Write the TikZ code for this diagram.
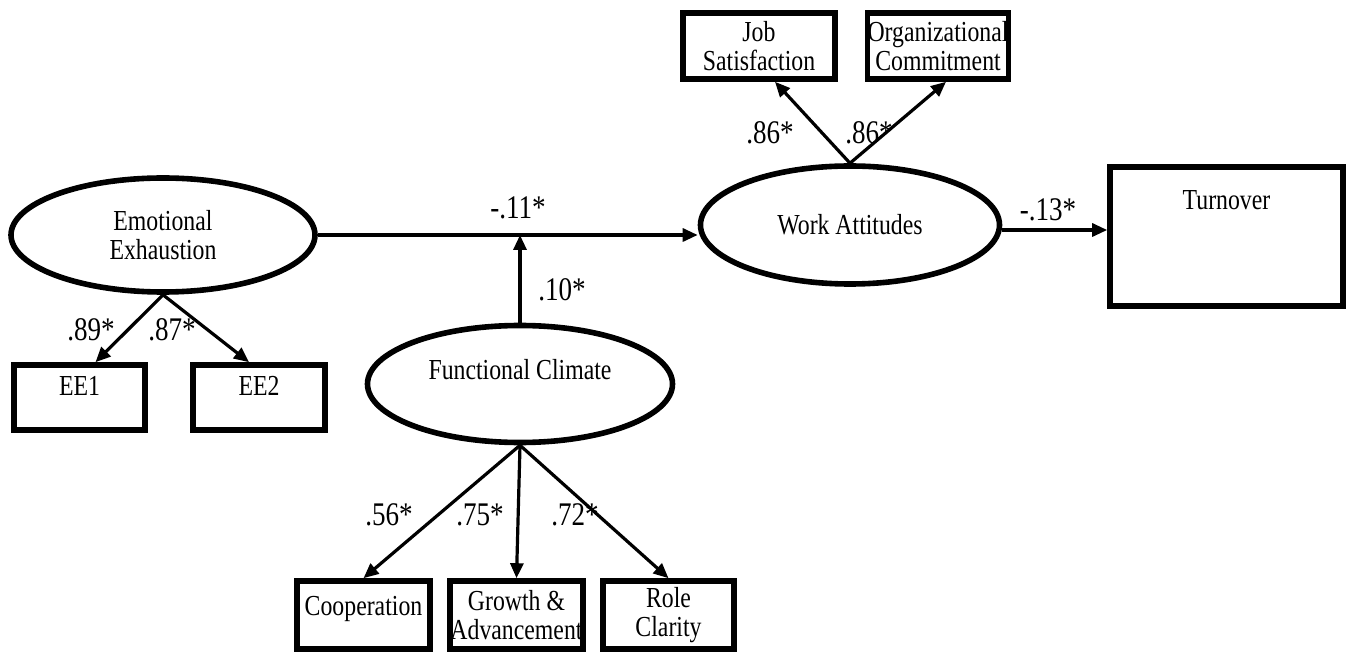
\documentclass[tikz,border=0pt]{standalone}
\usepackage{fontspec}
\setmainfont{Liberation Serif}[FakeStretch=0.82]
\usetikzlibrary{arrows.meta,shapes.geometric}

\begin{document}
\begin{tikzpicture}[x=0.5pt,y=-0.5pt,
      lat/.style={draw,ellipse,line width=2.8pt,inner sep=0pt,align=center,
                  font=\fontsize{14.5}{14.5}\selectfont},
      obs/.style={draw,rectangle,line width=2.8pt,inner sep=0pt,align=center,
                  font=\fontsize{14.5}{14.5}\selectfont},
      path/.style={line width=1.6pt,-{Triangle[length=7.5pt,width=6.5pt]}},
      coef/.style={inner sep=0pt,font=\fontsize{16.5}{16.5}\selectfont}]
    \useasboundingbox (0,0) rectangle (1356,652);
    % latent variables
    \node[lat,minimum width=152pt,minimum height=57pt]   (ee) at (163,235)  {Emotional\\Exhaustion};
    \node[lat,minimum width=152.5pt,minimum height=58.5pt,text height=8pt,text depth=12pt] (fc) at (520,384) {Functional Climate};
    \node[lat,minimum width=149.5pt,minimum height=59pt] (wa) at (850,225)  {Work Attitudes};
    % indicators
    \node[obs,minimum width=65.5pt,text height=15.5pt,text depth=17pt] (ee1) at (79.5,397.5) {EE1};
    \node[obs,minimum width=66pt,text height=15.5pt,text depth=17pt]   (ee2) at (259,397.5)  {EE2};
    \node[obs,minimum width=76pt,minimum height=33pt] (js) at (759,46) {Job\\Satisfaction};
    \node[obs,minimum width=69pt,minimum height=33pt] (oc) at (938,46) {Organizational\\Commitment};
    \node[obs,minimum width=116.5pt,text height=21.5pt,text depth=48pt] (to) at (1226.5,236.5) {Turnover};
    \node[obs,minimum width=66.5pt,text height=17pt,text depth=17pt] (coop) at (363.5,615) {Cooperation};
    \node[obs,minimum width=66.5pt,minimum height=34pt] (grow) at (516.5,615) {Growth \&\\Advancement};
    \node[obs,minimum width=65.5pt,minimum height=34pt] (role) at (668.5,615) {Role\\Clarity};
    % paths
    \draw[path] (ee.south) -- ([xshift=8pt]ee1.north);
    \draw[path] (ee.south) -- ([xshift=-5pt]ee2.north);
    \draw[path] (ee.east) -- (ee.east -| wa.west);
    \draw[path] (fc.north) -- (fc.north |- ee.east);
    \draw[path] (wa.north) -- ([xshift=8pt]js.south);
    \draw[path] (wa.north) -- ([xshift=4pt]oc.south);
    \draw[path] ([yshift=-2.5pt]wa.east) -- ([yshift=-2.5pt]wa.east -| to.west);
    \draw[path] (fc.south) -- (coop.north);
    \draw[path] (fc.south) -- (grow.north);
    \draw[path] (fc.south) -- (role.north);
    % coefficients
    \node[coef] (c1)  at (91,330)   {.89*};
    \node[coef] (c2)  at (172,330)  {.87*};
    \node[coef] (c3)  at (518,208)  {-.11*};
    \node[coef] (c4)  at (562,290)  {.10*};
    \node[coef] (c5)  at (770,133)  {.86*};
    \node[coef] (c6)  at (869,133)  {.86*};
    \node[coef] (c7)  at (1048,210) {-.13*};
    \node[coef] (c8)  at (389,515)  {.56*};
    \node[coef] (c9)  at (480,515)  {.75*};
    \node[coef] (c10) at (575,515)  {.72*};
\end{tikzpicture}
\end{document}
